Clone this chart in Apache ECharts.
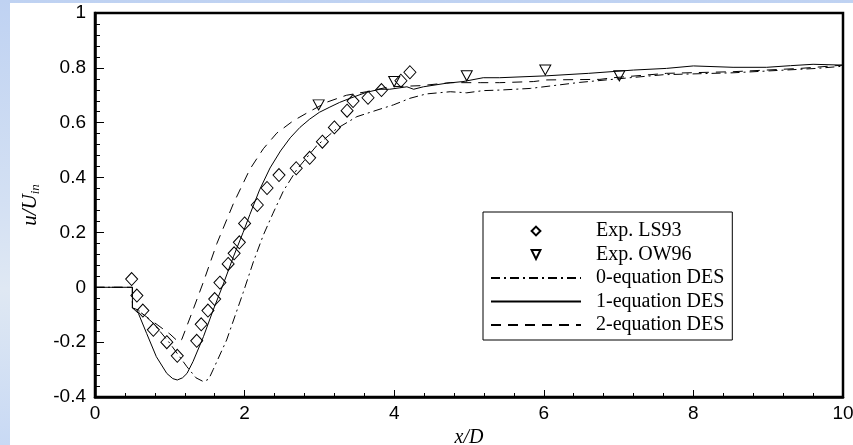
<!DOCTYPE html>
<html>
<head>
<meta charset="utf-8">
<script src="https://cdn.jsdelivr.net/npm/echarts@6/dist/echarts.min.js"></script>
<style>
  html, body { margin: 0; padding: 0; }
  #wrap { position: relative; width: 853px; height: 445px; overflow: hidden;
          background: linear-gradient(180deg, #bfd2f2 0%, #d3e0f3 45%, #dfe8f3 65%, #c8d9f4 100%); }
  #paper { position: absolute; left: 10px; top: 3px; right: 0; bottom: 0; background: #fff; }
  #chart { position: absolute; left: 0; top: 0; width: 853px; height: 445px; }
</style>
</head>
<body>
<div id="wrap">
  <div id="paper"></div>
  <div id="chart"></div>
</div>
<script>
// experiments
var ls93X = [0.49, 0.56, 0.64, 0.78, 0.96, 1.10, 1.36, 1.42, 1.51, 1.60, 1.67, 1.78, 1.86, 1.93, 2.00,
             2.17, 2.30, 2.46, 2.69, 2.87, 3.04, 3.20, 3.37, 3.45, 3.65, 3.83, 4.09, 4.21];
var ls93Y = [0.03, -0.03, -0.085, -0.155, -0.20, -0.25, -0.195, -0.135, -0.085, -0.043, 0.017, 0.085, 0.124, 0.164, 0.233,
             0.30, 0.362, 0.409, 0.434, 0.472, 0.531, 0.583, 0.644, 0.679, 0.691, 0.719, 0.753, 0.784];
var ow96X = [2.99, 4.00, 4.97, 6.02, 7.01];
var ow96Y = [0.665, 0.75, 0.771, 0.792, 0.771];

// 0-equation DES
var des0X = [0, 0.5, 0.5, 0.58, 0.78, 1.0, 1.23, 1.35, 1.45, 1.52, 1.58, 1.76, 1.98, 2.12, 2.25, 2.38, 2.52, 2.70,
             2.96, 3.23, 3.50, 3.77, 3.99, 4.21, 4.43, 4.75, 4.97, 5.19, 5.41, 5.82, 6.48, 7.15, 7.6, 8.53, 9.65, 10];
var des0Y = [0, 0, -0.075, -0.083, -0.131, -0.204, -0.29, -0.33, -0.344, -0.335, -0.30, -0.192, -0.02, 0.095, 0.19, 0.27, 0.352, 0.43,
             0.515, 0.578, 0.622, 0.646, 0.665, 0.689, 0.705, 0.713, 0.709, 0.717, 0.719, 0.725, 0.747, 0.764, 0.775, 0.782, 0.798, 0.806];
// 1-equation DES
var des1X = [0, 0.5, 0.5, 0.58, 0.69, 0.82, 0.96, 1.04, 1.10, 1.17, 1.23, 1.31, 1.45, 1.58, 1.72, 1.85, 1.98,
             2.07, 2.2, 2.34, 2.48, 2.61, 2.74, 2.87, 3.0, 3.14, 3.27, 3.41, 3.63, 3.81, 3.94, 4.17, 4.26, 4.39,
             4.70, 4.92, 5.19, 5.41, 6.04, 6.6, 7.2, 7.64, 8.0, 8.53, 8.98, 9.3, 9.6, 10];
var des1Y = [0, 0, -0.075, -0.095, -0.168, -0.253, -0.314, -0.333, -0.338, -0.33, -0.314, -0.271, -0.18, -0.083, 0.015, 0.111, 0.2,
             0.265, 0.355, 0.435, 0.497, 0.545, 0.583, 0.613, 0.638, 0.657, 0.674, 0.689, 0.711, 0.722, 0.722, 0.731, 0.722, 0.731,
             0.744, 0.75, 0.764, 0.764, 0.771, 0.78, 0.792, 0.798, 0.807, 0.802, 0.802, 0.808, 0.813, 0.81];
// 2-equation DES
var des2X = [0, 0.5, 0.5, 0.6, 0.8, 1.0, 1.12, 1.16, 1.3, 1.45, 1.63, 1.85, 2.07, 2.25, 2.43, 2.65, 2.85,
             3.10, 3.36, 3.63, 3.94, 4.35, 4.75, 5.15, 5.41, 5.86, 6.04, 6.75, 6.93, 7.64, 8.53, 9.43, 10];
var des2Y = [0, 0, -0.075, -0.09, -0.13, -0.17, -0.2, -0.19, -0.09, 0.02, 0.16, 0.305, 0.43, 0.505, 0.562, 0.607, 0.638,
             0.675, 0.7, 0.713, 0.731, 0.735, 0.746, 0.746, 0.746, 0.75, 0.756, 0.758, 0.764, 0.78, 0.786, 0.798, 0.81];

var xTicks = { min: 0, max: 10, interval: 2 };
var yTicks = { min: -0.4, max: 1, interval: 0.2 };

function pairs(xs, ys) {
    var out = [];
    for (var i = 0; i < xs.length; i++) out.push([xs[i], ys[i]]);
    return out;
}

var sans = 'Liberation Sans, Arial, sans-serif';
var serif = 'Liberation Serif, Times New Roman, serif';

var markerSeries = function (name, xs, ys, symbol, size) {
    return {
        name: name, type: 'line', data: pairs(xs, ys),
        symbol: symbol, symbolSize: size, showSymbol: true,
        lineStyle: { width: 0, opacity: 0 },
        itemStyle: { color: 'transparent', borderColor: '#000', borderWidth: 1 },
        z: 5
    };
};
var curveSeries = function (name, xs, ys, dash) {
    return {
        name: name, type: 'line', data: pairs(xs, ys),
        symbol: 'none', smooth: false,
        lineStyle: { color: '#000', width: 1, type: dash },
        itemStyle: { color: '#000', opacity: 0 }
    };
};

var chart = echarts.init(document.getElementById('chart'), null, { renderer: 'canvas' });
chart.setOption({
    animation: false,
    backgroundColor: 'transparent',
    grid: { left: 95, right: 10, top: 13, bottom: 48, show: true, borderColor: '#000', borderWidth: 2.5,
            containLabel: false, outerBoundsMode: 'none' },
    legend: {
        orient: 'vertical', left: 483, top: 212,
        itemWidth: 90, itemHeight: 11, itemGap: 3.5,
        padding: [9, 8, 5, 7],
        borderColor: '#000', borderWidth: 1, backgroundColor: '#fff',
        selectedMode: false,
        textStyle: { fontFamily: serif, fontSize: 20, color: '#000', padding: [0, 0, 0, 10] },
        data: [
            'Exp. LS93',
            'Exp. OW96',
            { name: '0-equation DES', itemStyle: { opacity: 0 } },
            { name: '1-equation DES', itemStyle: { opacity: 0 } },
            { name: '2-equation DES', itemStyle: { opacity: 0 } }
        ]
    },
    xAxis: {
        type: 'value', min: xTicks.min, max: xTicks.max, interval: xTicks.interval,
        name: 'x/D', nameLocation: 'middle', nameGap: 29,
        nameTextStyle: { fontFamily: serif, fontStyle: 'italic', fontSize: 20, color: '#000' },
        axisLine: { show: true, onZero: false, lineStyle: { color: '#000', width: 2.5 } },
        axisTick: { show: true, inside: true, length: 7, lineStyle: { color: '#000', width: 1 } },
        minorTick: { show: true, splitNumber: 5, length: 4, lineStyle: { color: '#000', width: 1 } },
        axisLabel: { fontFamily: sans, fontSize: 19, color: '#000', margin: 7 },
        splitLine: { show: false }
    },
    yAxis: {
        type: 'value', min: yTicks.min, max: yTicks.max, interval: yTicks.interval,
        name: '{a|u/U}{b|in}', nameLocation: 'middle', nameGap: 47, nameRotate: 90,
        nameTextStyle: {
            color: '#000',
            rich: {
                a: { fontFamily: serif, fontStyle: 'italic', fontSize: 21, color: '#000', lineHeight: 24, verticalAlign: 'middle' },
                b: { fontFamily: serif, fontStyle: 'italic', fontSize: 13, color: '#000', lineHeight: 24, verticalAlign: 'bottom', padding: [8, 0, 0, 0] }
            }
        },
        axisLine: { show: true, onZero: false, lineStyle: { color: '#000', width: 2.5 } },
        axisTick: { show: true, inside: true, length: 9, lineStyle: { color: '#000', width: 1 } },
        minorTick: { show: true, splitNumber: 5, length: 5, lineStyle: { color: '#000', width: 1 } },
        axisLabel: { fontFamily: sans, fontSize: 19, color: '#000', margin: 9 },
        splitLine: { show: false }
    },
    series: [
        markerSeries('Exp. LS93', ls93X, ls93Y, 'diamond', [12, 13]),
        markerSeries('Exp. OW96', ow96X, ow96Y, 'path://M0,0 L10,0 L5,9 Z', [11, 10]),
        curveSeries('0-equation DES', des0X, des0Y, [9, 4, 2, 4]),
        curveSeries('1-equation DES', des1X, des1Y, 'solid'),
        curveSeries('2-equation DES', des2X, des2Y, [10, 7])
    ]
});
</script>
</body>
</html>
